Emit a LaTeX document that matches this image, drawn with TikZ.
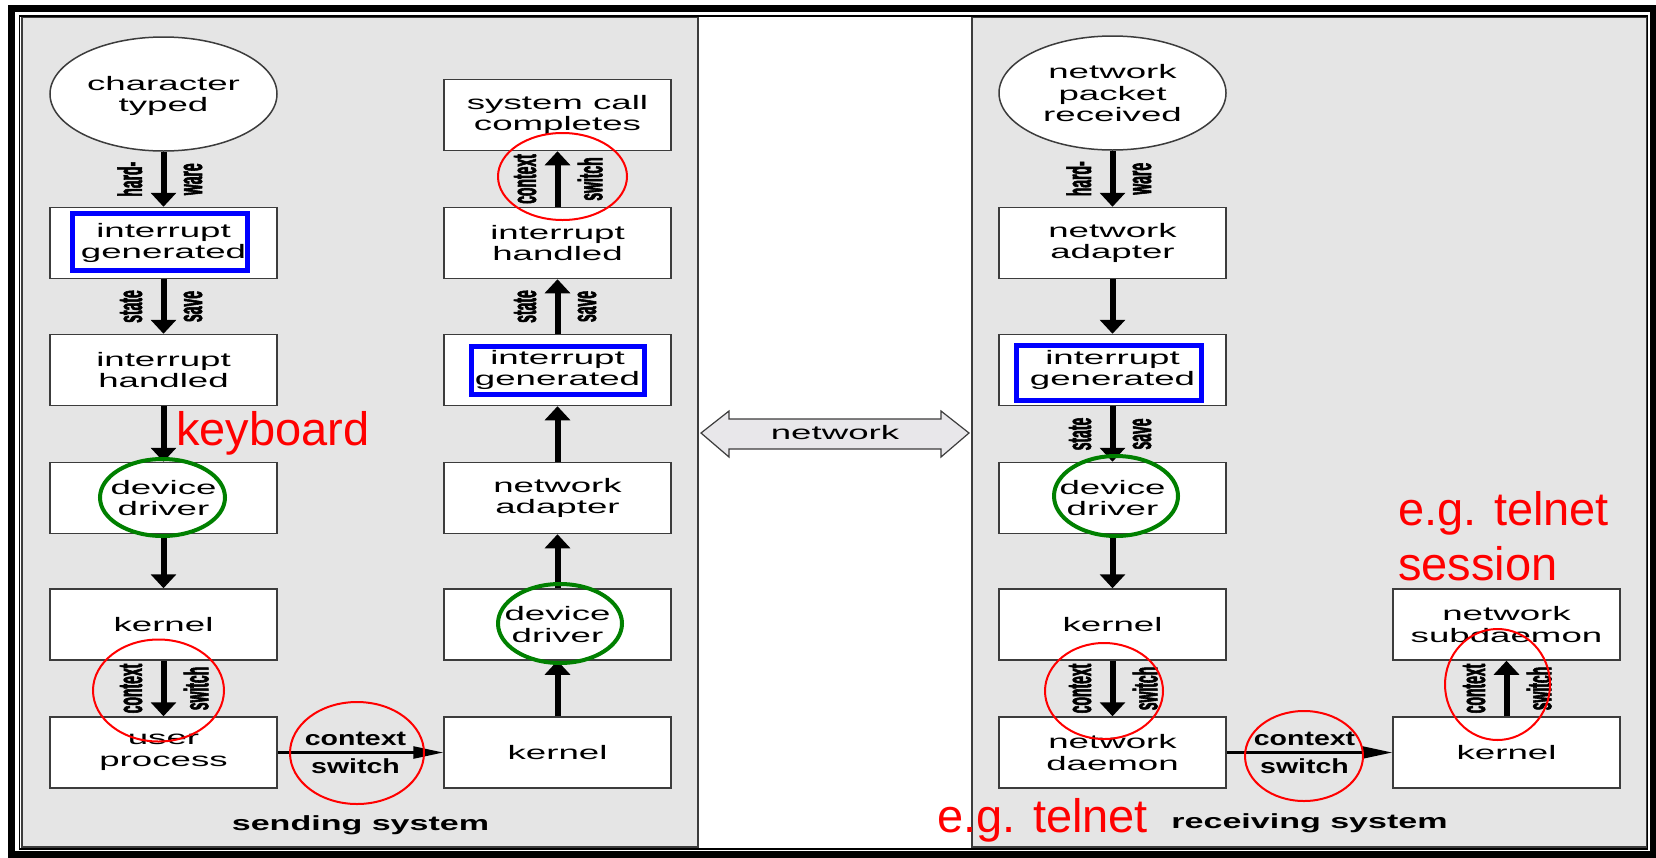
\documentclass[tikz,border=0pt]{standalone}
\usepackage{fontspec}
\setmainfont{Liberation Sans}
\newfontfamily\boxfont[FakeStretch=1.88]{Liberation Sans}
\newfontfamily\capfont[FakeStretch=1.66]{Liberation Sans}
\newfontfamily\hlblfont[FakeStretch=1.39]{Liberation Sans}
\newfontfamily\vlblfont[FakeStretch=0.41,FakeBold=1.6]{Liberation Sans}
\usetikzlibrary{arrows.meta,shapes.geometric}

\definecolor{panelgray}{RGB}{229,229,229}
\definecolor{edgegray}{RGB}{60,60,60}
\definecolor{netfill}{RGB}{232,231,234}
\definecolor{markgreen}{RGB}{0,128,0}
\definecolor{markblue}{RGB}{0,0,255}
\definecolor{markred}{RGB}{255,0,0}

% labels on both sides of a vertical step arrow
\newcommand\sidelabels[4]{%
  \path (#1) -- (#2) coordinate[pos=0.5] (#1#2m);
  \node[leftlbl] (#1#2l) at ([xshift=-21pt]#1#2m) {#3};
  \node[rightlbl] (#1#2r) at ([xshift=20pt]#1#2m) {#4};}

\begin{document}
\begin{tikzpicture}[x=1pt, y=-1pt,
  box/.style={draw=edgegray, line width=1.5pt, fill=white, minimum width=227pt,
    minimum height=71pt, inner sep=0pt, align=center,
    font=\boxfont\fontsize{19.5}{21.5}\selectfont},
  event/.style={box, ellipse, minimum height=114pt, text depth=0pt},
  flow/.style={line width=6pt, -{Triangle[length=14pt,width=25pt]}},
  switcharrow/.style={line width=2.5pt, -{Triangle[length=30pt,width=12pt]}},
  vlabel/.style={font=\vlblfont\bfseries\fontsize{34}{34}\selectfont, rotate=90, inner sep=0pt},
  leftlbl/.style={vlabel, anchor=south},
  rightlbl/.style={vlabel, anchor=north},
  hlabel/.style={font=\hlblfont\bfseries\fontsize{20.5}{22}\selectfont, anchor=base, inner sep=0pt},
  caption/.style={font=\capfont\bfseries\fontsize{20.5}{22}\selectfont, anchor=base, inner sep=0pt},
  note/.style={font=\fontsize{47}{55}\selectfont, text=markred, anchor=base west, inner sep=0pt},
  ring/.style={draw=markred, line width=2pt},
  driverring/.style={draw=markgreen, line width=4pt},
  irqframe/.style={draw=markblue, line width=5pt},
]
\useasboundingbox (0,0) rectangle (1656,857);

% frame and the two system panels
\fill[white] (0,0) rectangle (1656,857);
\filldraw[fill=panelgray, draw=edgegray, line width=1.2pt] (22,17) rectangle (698,847);
\filldraw[fill=panelgray, draw=edgegray, line width=1.2pt] (972,17) rectangle (1647,847);
\draw[black, line width=1.5pt] (19.5,15.8) rectangle (1647.5,849);
\draw[black, line width=7pt] (11.5,8.5) rectangle (1653.5,854.5);

% sending system
\node[event] (a1) at (163.5,94) {character\\typed};
\node[box] (a2) at (163.5,243) {interrupt\\generated};
\node[box] (a3) at (163.5,370) {interrupt\\handled};
\node[box] (a4) at (163.5,498) {device\\driver};
\node[box] (a5) at (163.5,624.5) {kernel};
\node[box] (a6) at (163.5,752.5) {user\\process};

\node[box] (b1) at (557.5,115) {system call\\completes};
\node[box] (b2) at (557.5,243) {interrupt\\handled};
\node[box] (b3) at (557.5,370) {interrupt\\generated};
\node[box] (b4) at (557.5,498) {network\\adapter};
\node[box] (b5) at (557.5,624.5) {device\\driver};
\node[box] (b6) at (557.5,752.5) {kernel};

% receiving system
\node[event] (c1) at (1112.5,93) {network\\packet\\received};
\node[box] (c2) at (1112.5,243) {network\\adapter};
\node[box] (c3) at (1112.5,370) {interrupt\\generated};
\node[box] (c4) at (1112.5,498) {device\\driver};
\node[box] (c5) at (1112.5,624.5) {kernel};
\node[box] (c6) at (1112.5,752.5) {network\\daemon};

\node[box] (d5) at (1506.5,624.5) {network\\subdaemon};
\node[box] (d6) at (1506.5,752.5) {kernel};

% step arrows
\draw[flow] (a1) -- (a2);
\draw[flow] (a2) -- (a3);
\draw[flow] (a3) -- (a4);
\draw[flow] (a4) -- (a5);
\draw[flow] (a5) -- (a6);
\draw[switcharrow] (a6) -- (b6);
\draw[flow] (b6) -- (b5);
\draw[flow] (b5) -- (b4);
\draw[flow] (b4) -- (b3);
\draw[flow] (b3) -- (b2);
\draw[flow] (b2) -- (b1);

\draw[flow] (c1) -- (c2);
\draw[flow] (c2) -- (c3);
\draw[flow] (c3) -- (c4);
\draw[flow] (c4) -- (c5);
\draw[flow] (c5) -- (c6);
\draw[switcharrow] (c6) -- (d6);
\draw[flow] (d6) -- (d5);

% arrow labels
\sidelabels{a1}{a2}{hard-}{ware}
\sidelabels{a2}{a3}{state}{save}
\sidelabels{a5}{a6}{context}{switch}
\sidelabels{b3}{b2}{state}{save}
\sidelabels{b2}{b1}{context}{switch}
\sidelabels{c1}{c2}{hard-}{ware}
\sidelabels{c3}{c4}{state}{save}
\sidelabels{c5}{c6}{context}{switch}
\sidelabels{d6}{d5}{context}{switch}

\path (a6) -- (b6) coordinate[pos=0.5] (abm);
\node[hlabel] (abctx) at ([xshift=-5pt,yshift=7.5pt]abm) {context};
\node[hlabel] (absw) at ([xshift=-5pt,yshift=-20.5pt]abm) {switch};
\path (c6) -- (d6) coordinate[pos=0.5] (cdm);
\node[hlabel] (cdctx) at ([xshift=-5pt,yshift=7.5pt]cdm) {context};
\node[hlabel] (cdsw) at ([xshift=-5pt,yshift=-20.5pt]cdm) {switch};

\node[caption] (send) at (360.5,830) {sending system};
\node[caption] (recv) at (1309.5,828) {receiving system};

% network link between the systems
\draw[draw=edgegray, fill=netfill, line width=1.2pt]
  (701,433) -- (729,411) -- (729,419) -- (941,419) -- (941,411) -- (969,433)
  -- (941,457) -- (941,449) -- (729,449) -- (729,457) -- cycle;
\node[font=\boxfont\fontsize{19.5}{22}\selectfont, inner sep=0pt] (net) at (835,433) {network};

% highlights
\draw[irqframe] (72.5,213.5) rectangle (247.5,270.5);
\draw[irqframe] (471.5,346.5) rectangle (644.5,394.5);
\draw[irqframe] (1016.5,345.5) rectangle (1201.5,400.5);

\draw[driverring] (162.5,497.5) ellipse [x radius=62.5pt, y radius=38.5pt];
\draw[driverring] (560,623.5) ellipse [x radius=62pt, y radius=39.5pt];
\draw[driverring] (1116,496) ellipse [x radius=62pt, y radius=40pt];

\draw[ring] (158.5,690.5) ellipse [x radius=65.5pt, y radius=51pt];
\draw[ring] (357,753) ellipse [x radius=67pt, y radius=51pt];
\draw[ring] (562.5,176.5) ellipse [x radius=64.5pt, y radius=43.5pt];
\draw[ring] (1104,691) ellipse [x radius=59pt, y radius=48pt];
\draw[ring] (1304,756) ellipse [x radius=59pt, y radius=45pt];
\draw[ring] (1497.5,684.5) ellipse [x radius=52.5pt, y radius=55.5pt];

% notes
\node[note] (kbd) at (176,445) {keyboard};
\node[note] (sess1) at (1398,525) {e.g. telnet};
\node[note] (sess2) at (1398,580) {session};
\node[note] (tel) at (937,832) {e.g. telnet};
\end{tikzpicture}
\end{document}
